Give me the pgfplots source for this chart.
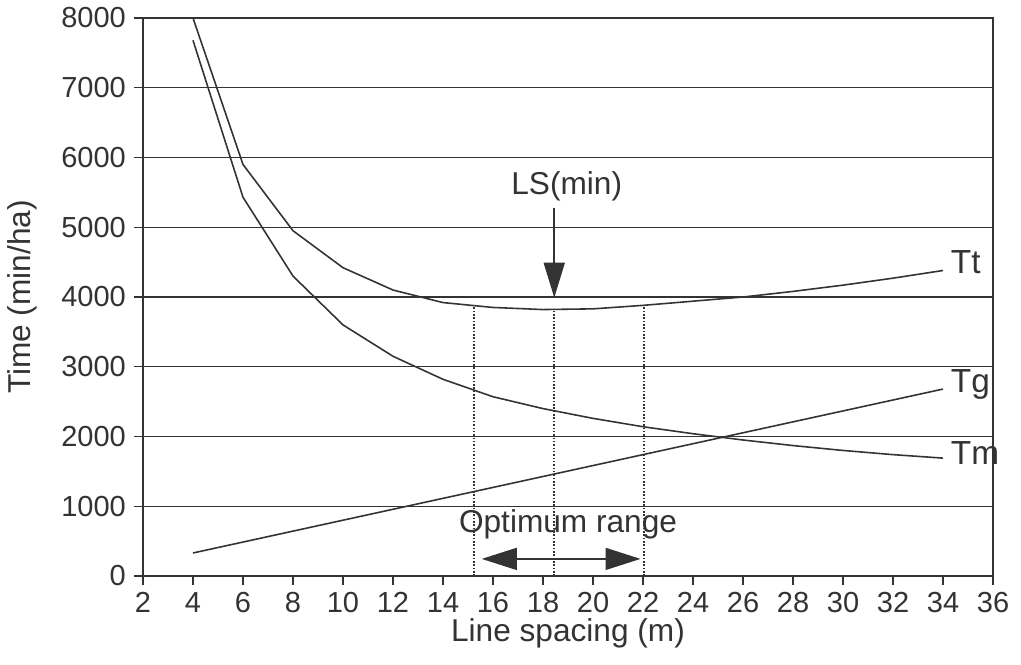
\documentclass[border=0pt]{standalone}
\usepackage{fontspec}
\setmainfont{Liberation Sans}
\usepackage{pgfplots}
\pgfplotsset{compat=1.18}
\usetikzlibrary{arrows.meta}

\definecolor{ink}{gray}{0.2}

\begin{document}
\begin{tikzpicture}
  % page frame, matches reference proportions (1 px = 0.02 cm)
  \useasboundingbox (-2.86,-1.76) rectangle (17.56,11.52);
  \begin{axis}[
    at={(0,0)}, anchor=south west,
    width=17cm, height=11.16cm, scale only axis,
    xmin=2, xmax=36, ymin=0, ymax=8000,
    xtick={2,4,...,36},
    ytick={0,1000,...,8000},
    xtick pos=left, ytick pos=left,
    tick align=outside,
    major tick length=0.18cm,
    ymajorgrids,
    grid style={ink, line width=0.7pt},
    axis line style={ink, line width=0.8pt},
    tick style={ink, line width=0.8pt},
    /pgf/number format/assume math mode=true,
    /pgf/number format/fixed,
    /pgf/number format/1000 sep={},
    scaled y ticks=false,
    tick label style={font=\fontsize{16.5}{19}\selectfont, text=ink},
    xticklabel style={yshift=-0.02cm},
    yticklabel style={xshift=-0.04cm},
    xlabel={Line spacing (m)},
    ylabel={Time (min/ha)},
    label style={font=\fontsize{18}{21}\selectfont, text=ink},
    xlabel style={at={(axis description cs:0.5,-0.102)}, anchor=center},
    ylabel style={at={(axis description cs:-0.142,0.5)}, anchor=center},
    clip=false,
  ]
    % Tt
    \addplot[ink, line width=0.9pt] coordinates {
      (4,8000) (6,5900) (8,4950) (10,4420) (12,4100) (14,3920) (16,3850)
      (18,3820) (20,3830) (22,3880) (24,3940) (26,4000) (28,4080)
      (30,4170) (32,4270) (34,4380)
    };
    % Tm
    \addplot[ink, line width=0.9pt] coordinates {
      (4,7680) (6,5430) (8,4300) (10,3600) (12,3150) (14,2820) (16,2570)
      (18,2400) (20,2260) (22,2140) (24,2040) (26,1950) (28,1870)
      (30,1800) (32,1740) (34,1690)
    };
    % Tg
    \addplot[ink, line width=0.9pt] coordinates {
      (4,330) (10,800) (16,1270) (22,1740) (28,2210) (34,2680)
    };
    % optimum range guides
    \addplot[ink, densely dotted, line width=0.9pt] coordinates {(15.25,0) (15.25,3890)};
    \addplot[ink, densely dotted, line width=0.9pt] coordinates {(18.45,0) (18.45,3830)};
    \addplot[ink, densely dotted, line width=0.9pt] coordinates {(22.05,0) (22.05,3890)};

    \draw[ink, line width=0.9pt, -{Triangle[length=0.7cm, width=0.42cm]}]
      (axis cs:18.45,5280) -- (axis cs:18.45,3990);
    \node[ink, font=\fontsize{18}{21}\selectfont] at (axis cs:18.95,5580) {LS(min)};

    \draw[ink, line width=0.9pt, {Triangle[length=0.7cm, width=0.44cm]}-{Triangle[length=0.7cm, width=0.44cm]}]
      (axis cs:15.55,245) -- (axis cs:21.9,245);
    \node[ink, font=\fontsize{18}{21}\selectfont] at (axis cs:19.0,740) {Optimum range};

    \node[ink, anchor=west, font=\fontsize{19}{22}\selectfont, inner sep=0pt] at (axis cs:34.3,4500) {Tt};
    \node[ink, anchor=west, font=\fontsize{19}{22}\selectfont, inner sep=0pt] at (axis cs:34.3,2740) {Tg};
    \node[ink, anchor=west, font=\fontsize{19}{22}\selectfont, inner sep=0pt] at (axis cs:34.3,1760) {Tm};
  \end{axis}
\end{tikzpicture}
\end{document}
